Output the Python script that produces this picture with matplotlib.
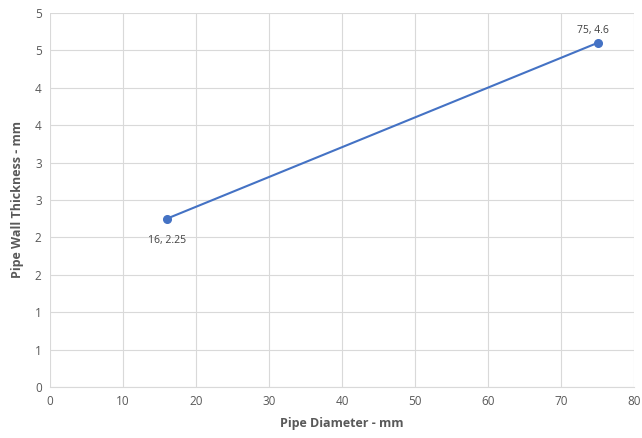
import matplotlib
matplotlib.use("Agg")
import matplotlib.pyplot as plt
from matplotlib.ticker import FuncFormatter, MultipleLocator

diameter = [16, 75]
thickness = [2.25, 4.6]
point_labels = ["16, 2.25", "75, 4.6"]

plt.rcParams['font.family'] = ['Open Sans', 'DejaVu Sans']

fig = plt.figure(figsize=(6.42, 4.38), dpi=100)
ax = fig.add_axes([50/642, 51/438, 584/642, 374/438])

color = '#4472C4'
ax.plot(diameter, thickness, color=color, lw=1.5, marker='o', ms=5.5, zorder=3)

ax.set_xlim(0, 80)
ax.set_ylim(0, 5)
ax.xaxis.set_major_locator(MultipleLocator(10))
ax.yaxis.set_major_locator(MultipleLocator(0.5))
ax.yaxis.set_major_formatter(FuncFormatter(lambda v, p: f"{int(v + 0.5 + 1e-9) if v % 1 else int(v)}"))
ax.grid(True, color='#D9D9D9', lw=0.8)
ax.set_axisbelow(True)
for s in ['top', 'right', 'left']:
    ax.spines[s].set_visible(False)
ax.spines['bottom'].set_color('#D9D9D9')
ax.tick_params(length=0, colors='#595959', labelsize=8.5, pad=6)

ax.annotate(point_labels[0], (diameter[0], thickness[0]), xytext=(0, -16),
            textcoords='offset points', ha='center', va='center', fontsize=7.5, color='#404040')
ax.annotate(point_labels[1], (diameter[1], thickness[1]), xytext=(-3, 9),
            textcoords='offset points', ha='center', va='center', fontsize=7.5, color='#404040')

ax.set_xlabel('Pipe Diameter - mm', fontsize=9, fontweight='bold', color='#595959', labelpad=6)
ax.set_ylabel('Pipe Wall Thickness - mm', fontsize=9, fontweight='bold', color='#595959', labelpad=8)

fig.savefig('out.png', dpi=100)
